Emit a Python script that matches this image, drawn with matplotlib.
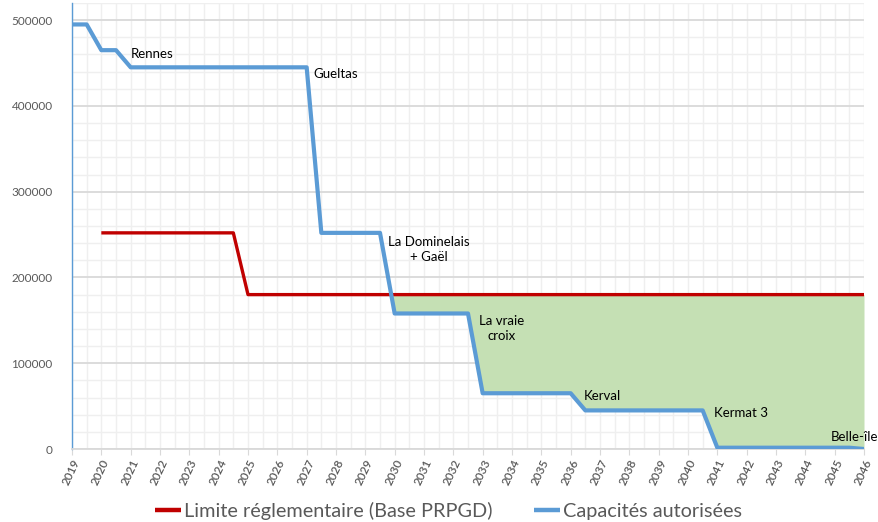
import numpy as np
import matplotlib
matplotlib.use("Agg")
import matplotlib.pyplot as plt
from matplotlib.ticker import MultipleLocator

plt.rcParams['font.family'] = ['Lato', 'DejaVu Sans']

# Half-year steps from 2019 to 2046
periods = [2019.0, 2019.5, 2020.0, 2020.5, 2021.0, 2021.5, 2022.0, 2022.5, 2023.0, 2023.5,
           2024.0, 2024.5, 2025.0, 2025.5, 2026.0, 2026.5, 2027.0, 2027.5, 2028.0, 2028.5,
           2029.0, 2029.5, 2030.0, 2030.5, 2031.0, 2031.5, 2032.0, 2032.5, 2033.0, 2033.5,
           2034.0, 2034.5, 2035.0, 2035.5, 2036.0, 2036.5, 2037.0, 2037.5, 2038.0, 2038.5,
           2039.0, 2039.5, 2040.0, 2040.5, 2041.0, 2041.5, 2042.0, 2042.5, 2043.0, 2043.5,
           2044.0, 2044.5, 2045.0, 2045.5, 2046.0]

capacites = [495000, 495000, 465000, 465000,
             445000, 445000, 445000, 445000, 445000, 445000, 445000, 445000, 445000,
             445000, 445000, 445000, 445000,
             252000, 252000, 252000, 252000, 252000,
             158000, 158000, 158000, 158000, 158000, 158000,
             65000, 65000, 65000, 65000, 65000, 65000, 65000,
             45000, 45000, 45000, 45000, 45000, 45000, 45000, 45000, 45000,
             1500, 1500, 1500, 1500, 1500, 1500, 1500, 1500, 1500, 1500,
             0]

limite = [np.nan, np.nan,
          252000, 252000, 252000, 252000, 252000, 252000, 252000, 252000, 252000, 252000,
          180000, 180000, 180000, 180000, 180000, 180000, 180000, 180000, 180000, 180000,
          180000, 180000, 180000, 180000, 180000, 180000, 180000, 180000, 180000, 180000,
          180000, 180000, 180000, 180000, 180000, 180000, 180000, 180000, 180000, 180000,
          180000, 180000, 180000, 180000, 180000, 180000, 180000, 180000, 180000, 180000,
          180000, 180000, 180000]

year_ticks = list(range(2019, 2047))

annotations = [
    ("Rennes", 2021.0, 461000, "left"),
    ("Gueltas", 2027.22, 437000, "left"),
    ("La Dominelais\n+ Gaël", 2031.15, 233000, "center"),
    ("La vraie\ncroix", 2033.66, 140000, "center"),
    ("Kerval", 2036.46, 62000, "left"),
    ("Kermat 3", 2040.9, 42000, "left"),
    ("Belle-île", 2044.88, 14000, "left"),
]

x = np.array(periods)
cap = np.array(capacites, dtype=float)
lim = np.array(limite, dtype=float)

fig = plt.figure(figsize=(8.79, 5.22), dpi=100)
ax = fig.add_axes([72/879, 1-449/522, (864-72)/879, (449-3)/522])

blue = "#5B9BD5"
red = "#C00000"
green = "#C5E0B4"

ax.set_xlim(2019, 2046)
ax.set_ylim(0, 520000)

ax.xaxis.set_major_locator(MultipleLocator(1))
ax.xaxis.set_minor_locator(MultipleLocator(0.5))
ax.yaxis.set_major_locator(MultipleLocator(100000))
ax.yaxis.set_minor_locator(MultipleLocator(20000))

ax.grid(which='minor', axis='both', color='#efefef', lw=1.0, zorder=0)
ax.grid(which='major', axis='x', color='#efefef', lw=1.0, zorder=0)
ax.grid(which='major', axis='y', color='#d9d9d9', lw=1.3, zorder=0)
ax.set_axisbelow(True)

valid = ~np.isnan(lim)
ax.fill_between(x[valid], lim[valid], cap[valid], where=(lim[valid] >= cap[valid]),
                interpolate=True, color=green, lw=0, zorder=1)

ax.plot(x, lim, color=red, lw=2.4, zorder=3, label="Limite réglementaire (Base PRPGD)",
        solid_capstyle='butt')
ax.plot(x, cap, color=blue, lw=3.0, zorder=4, label="Capacités autorisées",
        solid_capstyle='butt')

for txt, xv, yv, ha in annotations:
    ax.text(xv, yv, txt, ha=ha, va='center', fontsize=9.5, color='black',
            multialignment='center', linespacing=1.3, clip_on=False, zorder=5)

for s in ['top', 'right']:
    ax.spines[s].set_visible(False)
ax.spines['left'].set_color(blue)
ax.spines['left'].set_linewidth(1.0)
ax.spines['bottom'].set_color('#d9d9d9')
ax.spines['bottom'].set_linewidth(1.3)

ax.set_xticks(year_ticks)
ax.set_xticklabels([str(y) for y in year_ticks], rotation=65, ha='right',
                   rotation_mode='anchor', fontsize=8.5, color='#595959',
                   fontweight='semibold')
ax.tick_params(axis='x', which='major', length=4, color='#d9d9d9', pad=2)
ax.tick_params(axis='x', which='minor', length=0)
ax.tick_params(axis='y', which='both', length=0, labelsize=8.5, labelcolor='#595959', pad=14)
ax.yaxis.set_major_formatter(matplotlib.ticker.FuncFormatter(lambda v, p: f"{int(v)}"))

handles, labels = ax.get_legend_handles_labels()
leg = fig.legend(handles, labels, loc='center', bbox_to_anchor=(0.5 + 9/879, 1-511/522), ncol=2,
                 frameon=False, fontsize=14.3, handlelength=1.3, handletextpad=0.15,
                 columnspacing=2.1, labelcolor='#595959')
for h in leg.get_lines():
    h.set_linewidth(3.2)

fig.savefig("out.png", dpi=100)
